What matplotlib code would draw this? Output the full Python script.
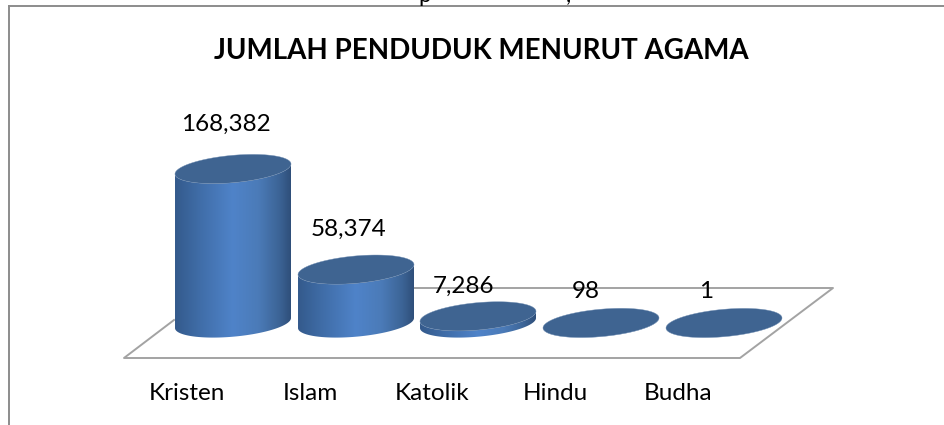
import numpy as np
import matplotlib
matplotlib.use('Agg')
import matplotlib.pyplot as plt
from matplotlib.patches import Polygon
from matplotlib.colors import LinearSegmentedColormap

plt.rcParams['font.family'] = ['Lato', 'DejaVu Sans']

categories = ['Kristen', 'Islam', 'Katolik', 'Hindu', 'Budha']
values = [168382, 58374, 7286, 98, 1]
value_labels = ['168,382', '58,374', '7,286', '98', '1']
title = 'JUMLAH PENDUDUK MENURUT AGAMA'

# one axes in pixel units, the 3D look is faked by hand
fig = plt.figure(figsize=(9.45, 4.25), dpi=100)
ax = fig.add_axes([0, 0, 1, 1])
ax.set_xlim(0, 945)
ax.set_ylim(425, 0)
ax.axis('off')

# outer frame
ax.plot([9, 9], [425, 6], color='#8c8c8c', lw=1.4)
ax.plot([9, 945], [6, 6], color='#8c8c8c', lw=1.4)
# line of text above the chart, only its descenders are left in the picture
ax.text(425, -4, 'p', fontsize=16, ha='center', va='center', color='black', clip_on=True)
ax.text(568, -4, ',', fontsize=16, ha='center', va='center', color='black', clip_on=True)

ax.text(481, 51, title, fontsize=20, fontweight='bold', ha='center', va='center', color='black')

# floor
ax.plot([174, 124, 740, 833, 300], [320, 358, 358, 288, 288], color='#a3a3a3', lw=1.4, zorder=1)

base_y = 323
px_per_value = 154 / 168382
centers = [233, 356, 478, 601, 724]
rx, ry, skew = 58, 13.7, 5
label_dx = [-7, -7, -14, -15, -18]
label_dy = [-44.5, -40, -30, -31, -31]
t = np.linspace(0, 2 * np.pi, 200)

side_cmap = LinearSegmentedColormap.from_list('side', [
    (0.0, '#345a8c'), (0.2, '#3f6ca6'), (0.5, '#4f83c9'),
    (0.72, '#4b7bb8'), (0.9, '#3c6496'), (1.0, '#2f4f7a')])
grad = np.linspace(0, 1, 256).reshape(1, -1)


def ellipse(cx, cy):
    return np.column_stack([cx + rx * np.cos(t), cy + ry * np.sin(t) - skew * np.cos(t)])


for i, v in enumerate(values):
    cx = centers[i]
    h = v * px_per_value
    top_y = base_y - h
    # side of the cylinder: lower half of base plus upper outline of top
    low = t[:100]
    bottom = np.column_stack([cx + rx * np.cos(low), base_y + ry * np.sin(low) - skew * np.cos(low)])
    top = np.column_stack([cx + rx * np.cos(low[::-1]), top_y + ry * np.sin(low[::-1]) - skew * np.cos(low[::-1])])
    body = Polygon(np.vstack([bottom, top]), closed=True, fc='none', ec='none', zorder=3)
    ax.add_patch(body)
    im = ax.imshow(grad, cmap=side_cmap, aspect='auto', zorder=3,
                   extent=[cx - rx, cx + rx, base_y + ry + 6, top_y - ry - 6])
    im.set_clip_path(body)
    ax.add_patch(Polygon(ellipse(cx, top_y), closed=True, fc='#3f6491', ec='#6f8db2', lw=0.3, zorder=4))
    ax.text(cx + label_dx[i], top_y + label_dy[i], value_labels[i],
            fontsize=17.5, ha='center', va='center', color='black', zorder=5)
    ax.text(cx - 46, 393, categories[i], fontsize=17.5, ha='center', va='center', color='black')

ax.set_xlim(0, 945)
ax.set_ylim(425, 0)
fig.savefig('out.png', dpi=100)
